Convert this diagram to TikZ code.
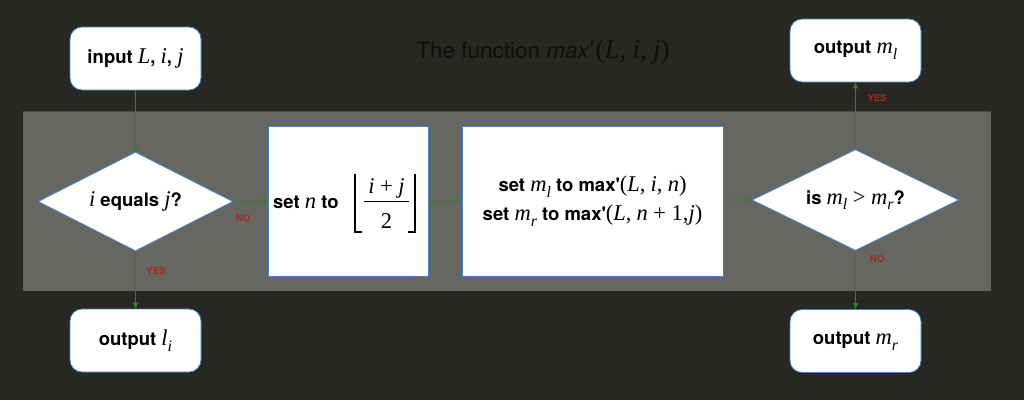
\documentclass[tikz,border=0pt]{standalone}
\usepackage{fontspec}
\setsansfont{TeX Gyre Heros}
\newfontfamily\mserif{Liberation Serif}
\usetikzlibrary{shapes.geometric,arrows.meta}
\definecolor{bgdark}{HTML}{272723}
\definecolor{band}{HTML}{666662}
\definecolor{edgeblue}{HTML}{4682C6}
\definecolor{arrgreen}{HTML}{3C7A2C}
\definecolor{lblred}{HTML}{A8281A}
\definecolor{titlecol}{HTML}{0E0E0E}
\newcommand{\apos}{\textquotesingle}
\def\msize{22.5}
\def\msubsize{16}
\newcommand{\mi}[1]{{\mserif\fontsize{\msize}{\msize}\selectfont\mdseries\itshape #1}}
\newcommand{\mup}[1]{{\mserif\fontsize{\msize}{\msize}\selectfont\mdseries\upshape #1}}
\newcommand{\msub}[2]{\mi{#1}\raisebox{-0.3em}{\mserif\fontsize{\msubsize}{\msubsize}\selectfont\mdseries\itshape #2}}
\newcommand{\bop}[1]{\kern5.5pt\mup{#1}\kern5.5pt}
\tikzset{
  every node/.style={font=\sffamily\bfseries\fontsize{18.5}{22}\selectfont},
  term/.style={draw=edgeblue, line width=0.8pt, fill=white, rounded corners=12pt,
    minimum width=131pt, minimum height=63pt, inner sep=0pt},
  proc/.style={draw=edgeblue, line width=0.8pt, fill=white, inner sep=0pt, align=center},
  decide/.style={draw=edgeblue, line width=0.8pt, fill=white, diamond, aspect=2,
    inner sep=0pt},
  flow/.style={draw=arrgreen, line width=0.7pt, -{Triangle[length=6pt,width=5pt]}},
  lbl/.style={font=\sffamily\bfseries\fontsize{9.5}{10}\selectfont, text=lblred, inner sep=0pt},
  mathpart/.style={inner sep=0pt, anchor=base}
}
\begin{document}
\begin{tikzpicture}[x=1pt,y=-1pt]
\fill[bgdark] (0,0) rectangle (1024,400);
\useasboundingbox (0,0) rectangle (1024,400);
\fill[band] (23,111) rectangle (991,291);
\draw[black!70, line width=0.6pt] (23,111) -- (991,111);

\node[font=\sffamily\fontsize{22.5}{26}\selectfont, text=titlecol] (title) at (543,52)
  {\def\msize{27}The function \textit{max}\mup{′(}\mi{L}\mup{,} \mi{i}\mup{,} \mi{j}\mup{)}};

\node[term] (in) at (135.5,58.5) {input \mi{L}, \mi{i}, \mi{j}};
\node[decide, minimum width=195pt, minimum height=99pt] (d1) at (135.5,201.5) {\mi{i} equals \mi{j}?};
\node[term] (outl) at (135.5,340.5) {output \msub{l}{i}};

% set n to floor((i+j)/2)
\node[proc, minimum width=160pt, minimum height=150pt] (setn) at (348,201) {};
\node[inner sep=0pt, anchor=base west] (setnlbl) at (273,208) {set \mi{n} to};
\node[mathpart] (num) at (386.5,193) {\mi{i}\bop{+}\mi{j}};
\node[mathpart] (den) at (386.5,228) {\mup{2}};
\draw[line width=1pt] (364,201.5) -- (409,201.5);
\draw[line width=1.1pt] (355,174) -- (355,232) -- (362,232);
\draw[line width=1.1pt] (415,174) -- (415,232) -- (408,232);

\node[proc, minimum width=261pt, minimum height=150pt] (setm) at (592.5,201)
  {set \msub{m}{l} to max\apos\mup{(}\mi{L}\mup{,} \mi{i}\mup{,} \mi{n}\mup{)}\\[7pt]
   set \msub{m}{r} to max\apos\mup{(}\mi{L}\mup{,} \mi{n}\bop{+}\mup{1,}\mi{j}\mup{)}};
\node[decide, minimum width=207pt, minimum height=101pt] (d2) at (855.5,200)
  {is \msub{m}{l}\bop{>}\msub{m}{r}?};
\node[term] (outml) at (855.5,50.5) {output \msub{m}{l}};
\node[term] (outmr) at (855.5,341) {output \msub{m}{r}};

\draw[flow] (in) -- (d1);
\draw[flow] (d1) -- (setn);
\draw[flow] (d1) -- (outl);
\draw[flow] (setn) -- (setm);
\draw[flow] (setm) -- (d2.west);
\draw[flow] (d2) -- (outml);
\draw[flow] (d2) -- (outmr);

\node[lbl] (no1) at (243,218) {NO};
\node[lbl] (yes1) at (156,271) {YES};
\node[lbl] (yes2) at (877,98) {YES};
\node[lbl] (no2) at (877,259) {NO};
\end{tikzpicture}
\end{document}
